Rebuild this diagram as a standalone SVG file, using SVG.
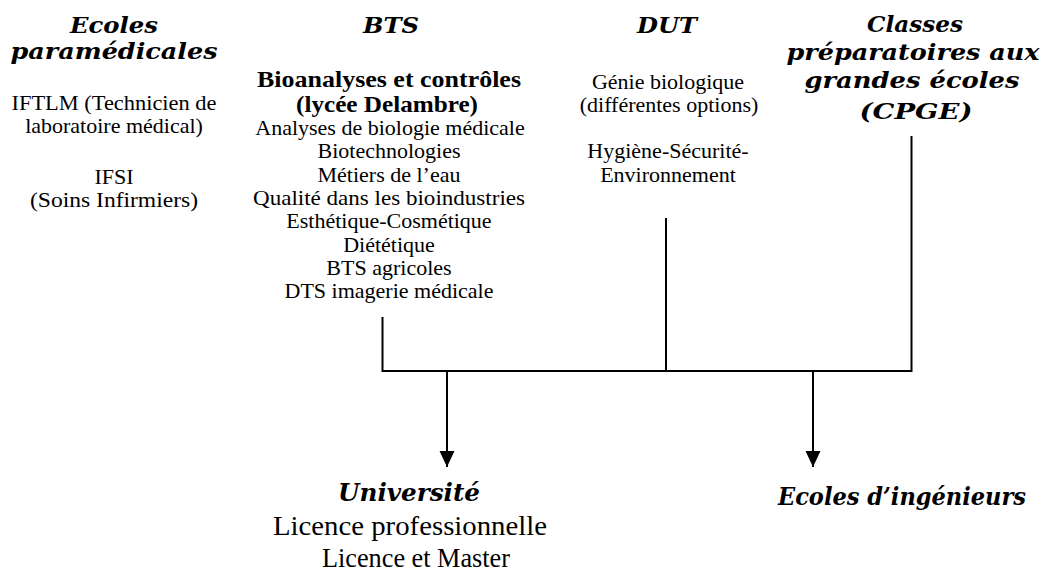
<svg xmlns="http://www.w3.org/2000/svg" width="1045" height="573" viewBox="0 0 1045 573">
<defs>
<style>
.h{font-family:"DejaVu Serif","Liberation Serif",serif;font-weight:bold;font-style:italic;font-size:22px;fill:#000;text-anchor:middle}
.hb{font-family:"DejaVu Serif","Liberation Serif",serif;font-weight:bold;font-style:italic;font-size:24px;fill:#000;text-anchor:middle}
.t{font-family:"Liberation Serif","DejaVu Serif",serif;font-size:22px;fill:#000;text-anchor:middle}
.tb{font-family:"Liberation Serif","DejaVu Serif",serif;font-size:22.5px;font-weight:bold;fill:#000;text-anchor:middle}
.tl{font-family:"Liberation Serif","DejaVu Serif",serif;font-size:28px;fill:#000;text-anchor:middle}
.ln{fill:none;stroke:#000;stroke-width:2}
</style>
<marker id="arr" markerUnits="userSpaceOnUse" markerWidth="16" markerHeight="16" refX="15" refY="7" orient="auto" viewBox="0 0 15 14">
<path d="M0,0 L15,7 L0,14 Z" fill="#000"/>
</marker>
</defs>
<rect width="1045" height="573" fill="#fff"/>
<g id="paramedicales">
<text class="h" x="114" y="33" textLength="88" lengthAdjust="spacingAndGlyphs">Ecoles</text>
<text class="h" x="114" y="59" textLength="207" lengthAdjust="spacingAndGlyphs">paramédicales</text>
<text class="t" x="114" y="110" textLength="205" lengthAdjust="spacingAndGlyphs">IFTLM (Technicien de</text>
<text class="t" x="114" y="133">laboratoire médical)</text>
<text class="t" x="114" y="184">IFSI</text>
<text class="t" x="114" y="207" textLength="168" lengthAdjust="spacingAndGlyphs">(Soins Infirmiers)</text>
</g>
<g id="bts">
<text class="h" x="391" y="33" textLength="56" lengthAdjust="spacingAndGlyphs">BTS</text>
<text class="tb" x="389" y="87" textLength="264" lengthAdjust="spacingAndGlyphs">Bioanalyses et contrôles</text>
<text class="tb" x="387" y="112" textLength="182" lengthAdjust="spacingAndGlyphs">(lycée Delambre)</text>
<text class="t" x="390" y="135">Analyses de biologie médicale</text>
<text class="t" x="389" y="158">Biotechnologies</text>
<text class="t" x="389" y="182">Métiers de l’eau</text>
<text class="t" x="389" y="205" textLength="272" lengthAdjust="spacingAndGlyphs">Qualité dans les bioindustries</text>
<text class="t" x="389" y="228">Esthétique-Cosmétique</text>
<text class="t" x="389" y="252">Diététique</text>
<text class="t" x="389" y="275">BTS agricoles</text>
<text class="t" x="389" y="298">DTS imagerie médicale</text>
</g>
<g id="dut">
<text class="h" x="667" y="33" textLength="60" lengthAdjust="spacingAndGlyphs">DUT</text>
<text class="t" x="668" y="89">Génie biologique</text>
<text class="t" x="669" y="112">(différentes options)</text>
<text class="t" x="668" y="158">Hygiène-Sécurité-</text>
<text class="t" x="668" y="182">Environnement</text>
</g>
<g id="cpge">
<text class="h" x="915" y="32" textLength="96" lengthAdjust="spacingAndGlyphs">Classes</text>
<text class="h" x="913" y="60" textLength="253" lengthAdjust="spacingAndGlyphs">préparatoires aux</text>
<text class="h" x="912" y="88" textLength="215" lengthAdjust="spacingAndGlyphs">grandes écoles</text>
<text class="h" x="916" y="119" textLength="113" lengthAdjust="spacingAndGlyphs">(CPGE)</text>
</g>
<g id="universite">
<text class="hb" x="409" y="501" textLength="142" lengthAdjust="spacingAndGlyphs">Université</text>
<text class="tl" x="410" y="535" textLength="274" lengthAdjust="spacingAndGlyphs">Licence professionnelle</text>
<text class="tl" x="416" y="567" textLength="188" lengthAdjust="spacingAndGlyphs">Licence et Master</text>
</g>
<g id="ingenieurs">
<text class="hb" x="902" y="505" textLength="248" lengthAdjust="spacingAndGlyphs">Ecoles d’ingénieurs</text>
</g>
<g id="connectors">
<path class="ln" d="M382.5,317 V371 H912"/>
<path class="ln" d="M666,218 V371"/>
<path class="ln" d="M911.5,136 V372"/>
<path class="ln" d="M447,371 V467" marker-end="url(#arr)"/>
<path class="ln" d="M813,371 V467" marker-end="url(#arr)"/>
</g>
</svg>
